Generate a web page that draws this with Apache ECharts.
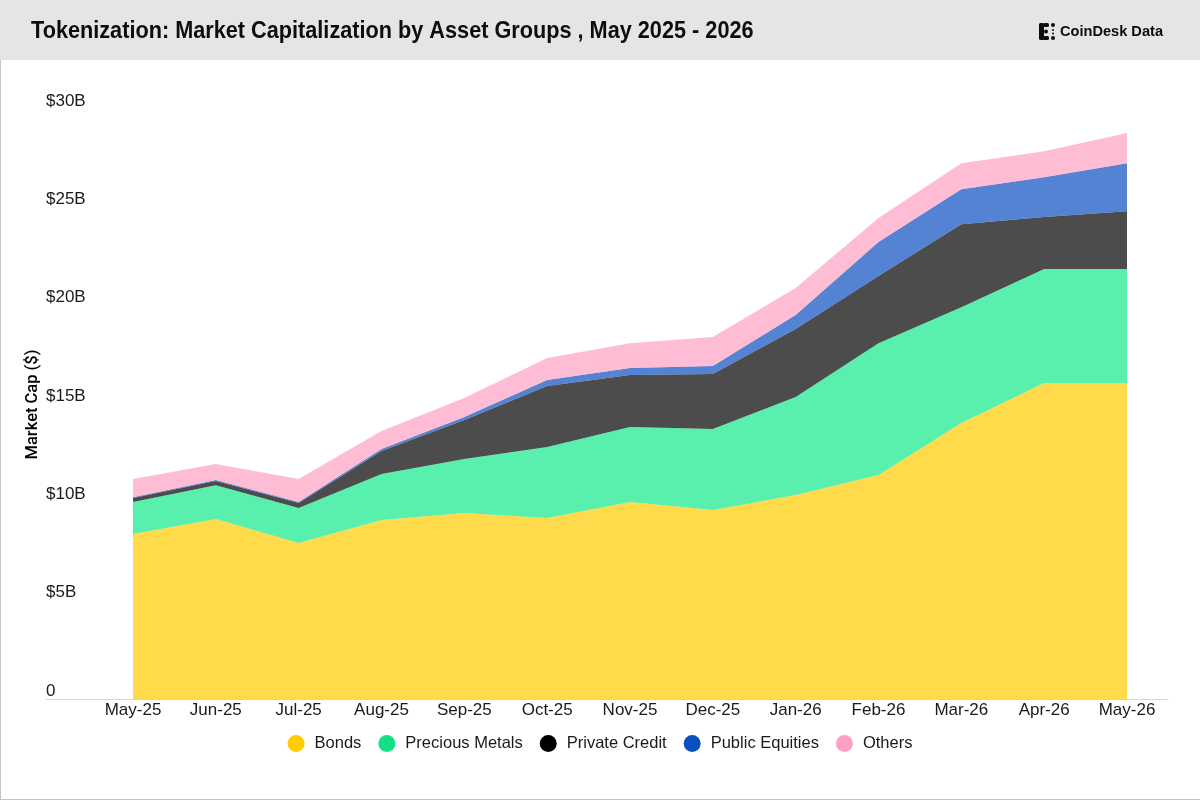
<!DOCTYPE html>
<html>
<head>
<meta charset="utf-8">
<style>html,body{margin:0;padding:0;background:#fff}#c{width:1200px;height:800px}</style>
<script src="https://cdn.jsdelivr.net/npm/echarts@6/dist/echarts.min.js"></script>
</head>
<body>
<div id="c"></div>
<script>
const categories = ['May-25','Jun-25','Jul-25','Aug-25','Sep-25','Oct-25','Nov-25','Dec-25','Jan-26','Feb-26','Mar-26','Apr-26','May-26'];
const bonds = [8.41,9.18,7.96,9.13,9.48,9.23,10.04,9.63,10.40,11.41,14.06,16.09,16.09];
const preciousMetals = [1.63,1.72,1.78,2.33,2.75,3.61,3.81,4.12,4.98,6.71,5.89,5.80,5.80];
const privateCredit = [0.20,0.21,0.25,1.17,1.98,3.10,2.65,2.80,3.46,3.41,4.22,2.64,2.94];
const publicEquities = [0.05,0.05,0.05,0.11,0.15,0.30,0.35,0.41,0.71,1.73,1.78,2.03,2.44];
const others = [0.92,0.81,1.17,0.91,0.97,1.12,1.27,1.47,1.37,1.22,1.32,1.32,1.53];
const seriesNames = ['Bonds','Precious Metals','Private Credit','Public Equities','Others'];
const seriesColors = ['#FFCC00','#12DF86','#000000','#0A4FBF','#FF9FC3'];
const areaColors = ['#FFCC00','#13E88A','#000000','#0A4FBF','#FF9FC3'];
const seriesValues = [bonds,preciousMetals,privateCredit,publicEquities,others];
const FONT = '"Liberation Sans", Arial, sans-serif';
const INK = '#1a1a1a';

const chart = echarts.init(document.getElementById('c'), null, {renderer:'canvas'});
chart.setOption({
  animation:false,
  backgroundColor:'#ffffff',
  graphic:[
    {type:'rect',z:0,shape:{x:0,y:0,width:1200,height:60},style:{fill:'#e5e5e5'}},
    {type:'rect',z:0,shape:{x:0,y:60,width:1,height:740},style:{fill:'#c4c4c4'}},
    {type:'rect',z:0,shape:{x:0,y:799,width:1200,height:1},style:{fill:'#c4c4c4'}},
    {type:'text',z:5,x:31,y:31,scaleX:0.885,style:{text:'Tokenization: Market Capitalization by Asset Groups , May 2025 - 2026',font:'bold 24.5px '+FONT,fill:'#0d0d0d',textVerticalAlign:'middle'}},
    {type:'text',z:5,x:1060,y:32,style:{text:'CoinDesk Data',font:'bold 14.6px '+FONT,fill:'#0d0d0d',textVerticalAlign:'middle'}},
    {type:'group',z:5,x:1039,y:23,children:[
      {type:'rect',shape:{x:0,y:0,width:5,height:17,r:1.5},style:{fill:'#0d0d0d'}},
      {type:'rect',shape:{x:4,y:0,width:6,height:4,r:1.5},style:{fill:'#0d0d0d'}},
      {type:'rect',shape:{x:4,y:13,width:6,height:4,r:1.5},style:{fill:'#0d0d0d'}},
      {type:'circle',shape:{cx:7,cy:8.5,r:2},style:{fill:'#0d0d0d'}},
      {type:'circle',shape:{cx:14,cy:2,r:2},style:{fill:'#0d0d0d'}},
      {type:'circle',shape:{cx:14,cy:15,r:2},style:{fill:'#0d0d0d'}},
      {type:'circle',shape:{cx:14,cy:7,r:1},style:{fill:'#0d0d0d'}},
      {type:'circle',shape:{cx:14,cy:10.5,r:1},style:{fill:'#0d0d0d'}}
    ]}
  ],
  legend:{
    show:true,top:730,left:'center',icon:'circle',itemWidth:17,itemHeight:17,itemGap:17,
    data:seriesNames,
    textStyle:{fontFamily:FONT,fontSize:16.5,color:INK,padding:[0,0,0,5]}
  },
  grid:[
    {left:133,right:73,top:109.5,bottom:100.5,containLabel:false},
    {left:46,right:32,top:109.5,bottom:100.5,containLabel:false}
  ],
  xAxis:[
    {type:'category',gridIndex:0,data:categories,boundaryGap:false,
      axisLine:{show:false},axisTick:{show:false},splitLine:{show:false},
      axisLabel:{interval:0,fontFamily:FONT,fontSize:17,color:INK,margin:2,hideOverlap:false,showMinLabel:true,showMaxLabel:true}},
    {type:'category',gridIndex:1,data:[],boundaryGap:false,
      axisLine:{show:true,onZero:false,lineStyle:{color:'#d6d6d6',width:1}},axisTick:{show:false},axisLabel:{show:false},splitLine:{show:false}}
  ],
  yAxis:[
    {type:'value',gridIndex:0,min:0,max:30,interval:5,
      name:'Market Cap ($)',nameLocation:'middle',nameGap:92,nameRotate:90,nameMoveOverlap:false,
      nameTextStyle:{fontFamily:'Roboto, '+FONT,fontWeight:500,fontSize:16.5,color:'#000000'},
      axisLine:{show:false},axisTick:{show:false},splitLine:{show:false},
      axisLabel:{margin:87,align:'left',verticalAlign:'bottom',fontFamily:FONT,fontSize:17,color:INK,
        formatter:function(v){return v===0?'0':'$'+v+'B';}}},
    {type:'value',gridIndex:1,min:0,max:30,interval:5,show:false}
  ],
  series:seriesNames.map(function(n,i){return {
    name:n,type:'line',stack:'total',xAxisIndex:0,yAxisIndex:0,data:seriesValues[i],
    symbol:'none',showSymbol:false,smooth:false,
    color:seriesColors[i],
    itemStyle:{color:seriesColors[i]},
    lineStyle:{width:0,color:seriesColors[i]},
    areaStyle:{color:areaColors[i],opacity:0.7}
  };})
});
</script>
</body>
</html>
